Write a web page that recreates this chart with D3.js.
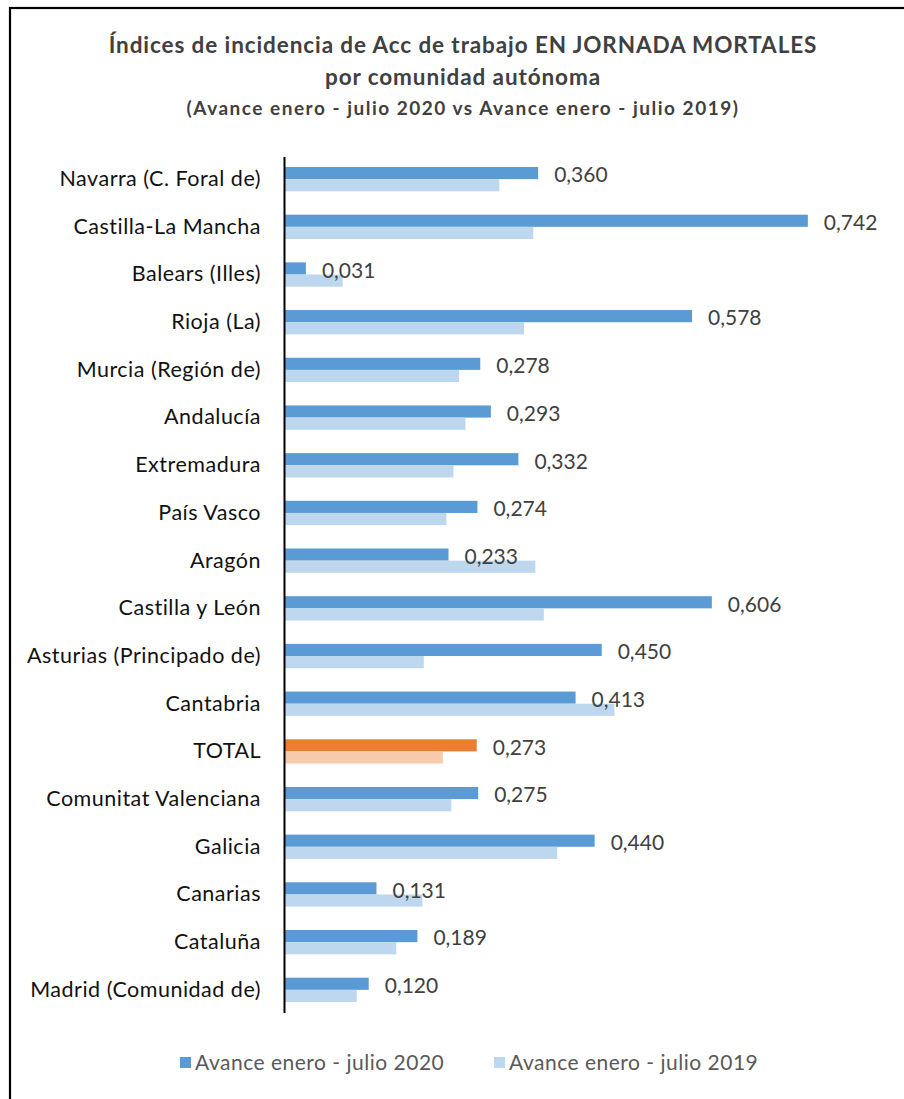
<!DOCTYPE html>
<html>
<head>
<meta charset="utf-8">
<script src="https://cdn.jsdelivr.net/npm/d3@7"></script>
<style>
  body { margin: 0; background: #fff; }
  svg { display: block; }
</style>
</head>
<body>
<div id="chart"></div>
<script>
// data
var categories = [
  "Navarra (C. Foral de)", "Castilla-La Mancha", "Balears (Illes)", "Rioja (La)",
  "Murcia (Región de)", "Andalucía", "Extremadura", "País Vasco", "Aragón",
  "Castilla y León", "Asturias (Principado de)", "Cantabria", "TOTAL",
  "Comunitat Valenciana", "Galicia", "Canarias", "Cataluña", "Madrid (Comunidad de)"
];
var values2020 = [0.360, 0.742, 0.031, 0.578, 0.278, 0.293, 0.332, 0.274, 0.233,
  0.606, 0.450, 0.413, 0.273, 0.275, 0.440, 0.131, 0.189, 0.120];
var values2019 = [0.305, 0.353, 0.083, 0.340, 0.248, 0.257, 0.240, 0.230, 0.356,
  0.368, 0.198, 0.468, 0.225, 0.237, 0.387, 0.196, 0.159, 0.103];
var seriesNames = ["Avance enero - julio 2020", "Avance enero - julio 2019"];
var titleLines = [
  "Índices de incidencia de Acc de trabajo EN JORNADA MORTALES",
  "por comunidad autónoma",
  "(Avance enero - julio 2020 vs Avance enero - julio 2019)"
];

var svgWidth = 904;
var svgHeight = 1099;
var font = "Lato, 'Open Sans', sans-serif";

var colors = { "2020": "#5B9BD5", "2019": "#BDD7EE" };
var totalColors = { "2020": "#ED7D31", "2019": "#F8CBAD" };

var data = categories.map(function(c, i) {
  return { name: c, v2020: values2020[i], v2019: values2019[i] };
});

var svg = d3.select("#chart")
  .append("svg")
  .attr("width", svgWidth)
  .attr("height", svgHeight);

svg.append("rect")
  .attr("width", svgWidth)
  .attr("height", svgHeight)
  .attr("fill", "#fff");

// frame (only left and top edges are visible in the crop)
svg.append("rect")
  .attr("x", 10)
  .attr("y", 8)
  .attr("width", 1000)
  .attr("height", 1200)
  .attr("fill", "none")
  .attr("stroke", "#000")
  .attr("stroke-width", 2.2);

// title
var title = svg.append("g")
  .attr("font-family", font)
  .attr("font-weight", "bold")
  .attr("fill", "#404040")
  .attr("text-anchor", "middle");

title.selectAll("text")
  .data(titleLines)
  .enter()
  .append("text")
  .attr("x", 463)
  .attr("y", function(d, i) { return [53, 85, 115][i]; })
  .attr("font-size", function(d, i) { return i < 2 ? "22.5px" : "19px"; })
  .attr("letter-spacing", function(d, i) { return i < 2 ? "0.9px" : "1.5px"; })
  .text(function(d) { return d; });

// scales
var x = d3.scaleLinear()
  .domain([0, 0.8])
  .range([284, 284 + 0.8 * 706]);

var y = d3.scaleBand()
  .domain(categories)
  .range([156.5, 1012.5])
  .paddingInner(0.49)
  .paddingOuter(0.22);

var ySub = d3.scaleBand()
  .domain(["2020", "2019"])
  .range([0, y.bandwidth()]);

var bars = svg.append("g");

var rows = bars.selectAll("g")
  .data(data)
  .enter()
  .append("g")
  .attr("transform", function(d) { return "translate(0," + y(d.name) + ")"; });

["2020", "2019"].forEach(function(key) {
  rows.append("rect")
    .attr("x", x(0))
    .attr("y", ySub(key))
    .attr("width", function(d) { return x(d["v" + key]) - x(0); })
    .attr("height", ySub.bandwidth())
    .attr("fill", function(d) {
      return d.name === "TOTAL" ? totalColors[key] : colors[key];
    });
});

// data labels for 2020
rows.append("text")
  .attr("x", function(d) { return x(d.v2020) + 16; })
  .attr("y", y.bandwidth() * 0.33)
  .attr("dy", "0.35em")
  .attr("font-family", font)
  .attr("font-size", "21px")
  .attr("fill", "#404040")
  .text(function(d) { return d3.format(".3f")(d.v2020).replace(".", ","); });

// category axis
var yAxis = d3.axisLeft(y).tickSize(0).tickPadding(23);

var axisG = svg.append("g")
  .attr("transform", "translate(" + x(0) + ",0)")
  .call(yAxis);

axisG.select(".domain")
  .attr("stroke", "#000")
  .attr("stroke-width", 2);

axisG.selectAll("text")
  .attr("font-family", font)
  .attr("font-size", "21.5px")
  .attr("letter-spacing", "0.5px")
  .attr("fill", "#111");

// legend
var legend = svg.append("g")
  .attr("font-family", font)
  .attr("font-size", "21px")
  .attr("letter-spacing", "0.5px")
  .attr("fill", "#595959");

var legendX = [180, 494];
seriesNames.forEach(function(name, i) {
  var key = i === 0 ? "2020" : "2019";
  legend.append("rect")
    .attr("x", legendX[i])
    .attr("y", 1057)
    .attr("width", 11)
    .attr("height", 11)
    .attr("fill", colors[key]);
  legend.append("text")
    .attr("x", legendX[i] + 15)
    .attr("y", 1063)
    .attr("dy", "0.35em")
    .text(name);
});
</script>
</body>
</html>
